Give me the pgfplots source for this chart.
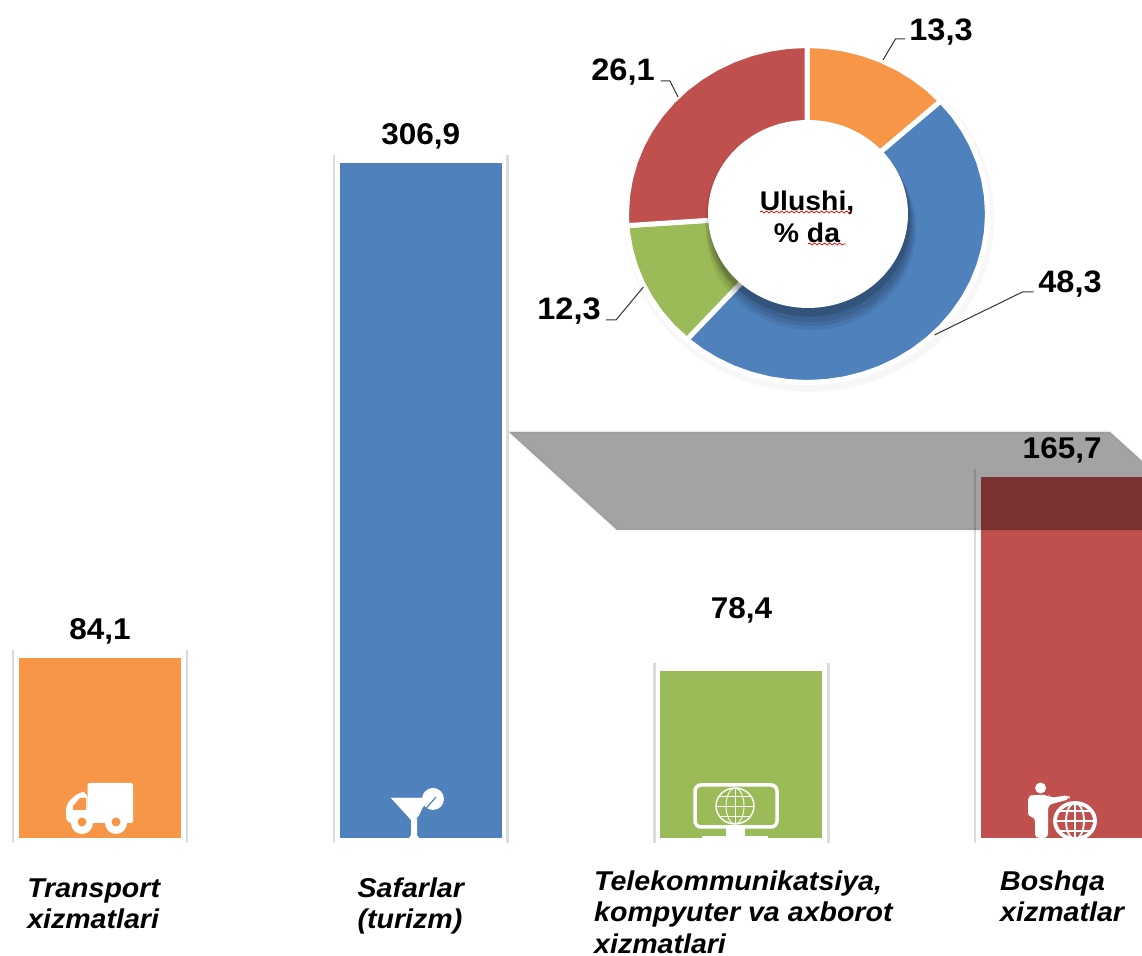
\documentclass[border=0pt]{standalone}
\usepackage{fontspec}
\setmainfont[FakeStretch=1.05]{Liberation Sans}
\usepackage{pgfplots}
\usepgfplotslibrary{polar}
\usetikzlibrary{decorations.pathmorphing}
\pgfplotsset{compat=1.18}

\definecolor{cOrange}{HTML}{F79646}
\definecolor{cBlue}{HTML}{4F81BD}
\definecolor{cGreen}{HTML}{9BBB59}
\definecolor{cRed}{HTML}{C0504D}

\begin{document}
% 1 picture unit = 1 px of the reference, y up from the bottom edge
\begin{tikzpicture}[x=0.5pt,y=0.5pt]
\path[use as bounding box] (0,0) rectangle (1142,956);

\begin{axis}[
    at={(0pt,59pt)},
    anchor=south west,
    scale only axis,
    width=571pt,
    height=419pt,
    xmin=-0.312, xmax=3.249,
    ymin=3.28, ymax=380.2,
    axis x line=bottom,
    axis y line=none,
    axis line style={draw=none},
    clip=false,
    ytick=\empty,
    xtick={-0.02,0.969,2.006,3},
    xticklabels={
      {\rule{0pt}{13.5pt}Transport\\xizmatlari},
      {\rule{0pt}{13.5pt}Safarlar\\(turizm)},
      {Telekommunikatsiya,\\kompyuter va axborot\\xizmatlari},
      {Boshqa\\xizmatlar}},
    major tick length=0pt,
    xtick style={draw=none},
    x tick label style={font=\fontsize{13.6}{15.8}\selectfont\bfseries\itshape, align=left, inner sep=0pt, yshift=-16pt},
    ybar,
    bar width=81pt,
    /pgf/bar shift=0pt,
    nodes near coords,
    nodes near coords style={font=\fontsize{15}{15}\selectfont\bfseries, black, yshift=3.5pt},
    /pgf/number format/assume math mode=true,
    /pgf/number format/use comma,
    /pgf/number format/fixed,
    /pgf/number format/fixed zerofill,
    /pgf/number format/precision=1,
]
\addplot[ybar, fill=cOrange, draw=none] coordinates {(0,84.1)};
\addplot[ybar, fill=cBlue, draw=none] coordinates {(1,306.9)};
\addplot[ybar, fill=cGreen, draw=none, every node near coord/.append style={yshift=17pt}] coordinates {(2,78.4)};
\addplot[ybar, fill=cRed, draw=none] coordinates {(3,165.7)};
% pale side lines beside each bar
\addplot[sharp plot, nodes near coords=, black!14, line width=1.2pt, unbounded coords=jump] coordinates {
  (-0.271,1) (-0.271,87.7) (0,nan) (0.271,1) (0.271,87.7) (0,nan)
  (0.729,1) (0.729,310.5) (0,nan) (1.271,1) (1.271,310.5) (0,nan)
  (1.729,1) (1.729,82) (0,nan) (2.271,1) (2.271,82) (0,nan)
  (2.729,1) (2.729,169.3)
};
\end{axis}

% slanted grey band
\fill[black,fill opacity=0.36] (509,524) -- (1110,524) -- (1142,495) -- (1142,426) -- (617,426) -- cycle;
\draw[black,draw opacity=0.04,line width=1.5pt] (509,524) -- (1110,524) -- (1142,495) (1142,426) -- (617,426) -- (509,524);

% truck
\begin{scope}[white]
\fill[rounded corners=1pt] (87.5,173) rectangle (133,133);
\fill[rounded corners=3pt] (87.5,164) -- (79,164) -- (66,152) -- (66,133) -- (88,133) -- cycle;
\fill[cOrange] (86,158) -- (80,158) -- (73,150) -- (73,146) -- (86,146) -- cycle;
\fill (82,133) circle (11);
\fill (116,133) circle (11);
\fill[cOrange] (82,134) circle (4.5);
\fill[cOrange] (116,134) circle (4.5);
\end{scope}

% cocktail glass
\begin{scope}[white]
\fill (433,157) circle (11);
\fill (391,158) -- (427,158) -- (417,136) -- (417,121) -- (419,118) -- (409,118) -- (411,121) -- (411,136) -- cycle;
\draw[cBlue,line width=0.6pt] (417,137) -- (436,159);
\fill (391,158) -- (430,158) -- (414,137) -- cycle;
\end{scope}

% monitor with globe
\begin{scope}[white]
\draw[line width=1.75pt,rounded corners=3pt] (695,171) rectangle (777,129);
\fill (726,128) rectangle (745,118);
\fill (702,118) rectangle (768,120);
\draw[line width=0.7pt] (735,150) ellipse [x radius=19,y radius=18];
\draw[line width=0.45pt] (735,150) ellipse [x radius=9,y radius=18];
\draw[line width=0.45pt] (716,150) -- (754,150) (735,132) -- (735,168)
  (719,160) -- (751,160) (719,140) -- (751,140);
\end{scope}

% presenter with globe
\begin{scope}[white]
\fill (1040.6,168) circle (5.5);
\fill[rounded corners=2pt] (1033,161) -- (1048,161) -- (1050,158) -- (1069,161) -- (1070,157) -- (1048,151) -- (1048,118) -- (1035,118) -- (1035,139) -- (1028,139) -- (1028,160) -- cycle;
\begin{scope}
\clip (1040,118) rectangle (1110,160);
\draw[line width=1.9pt] (1075,135) ellipse [x radius=20,y radius=18];
\draw[line width=0.9pt] (1075,135) ellipse [x radius=9,y radius=18];
\draw[line width=0.9pt] (1055,135) -- (1095,135) (1075,117) -- (1075,153)
  (1059,145) -- (1091,145) (1059,125) -- (1091,125);
\end{scope}
\end{scope}

% doughnut: soft rim, slices, shadow of the hole, hole
\fill[black,opacity=0.03] (809,738) ellipse [x radius=185,y radius=174];
\fill[white] (807,742) ellipse [x radius=183,y radius=171];

\begin{axis}[
    at={(313.25pt,286.75pt)},
    anchor=south west,
    scale only axis,
    width=180.5pt,
    height=168.5pt,
    xmin=-1, xmax=1,
    ymin=-1, ymax=1,
    hide axis,
    clip=false,
    data cs=polar,
    every axis plot/.append style={draw=white, line width=2.5pt, line join=round},
]
% slices start at 12 o'clock and run clockwise: 13,3 48,3 12,3 26,1 (angle, radius)
\addplot[fill=cOrange] coordinates {(0,0) (90,1) (84,1) (78,1) (72,1) (66,1) (60,1) (54,1) (48,1) (42.12,1)} --cycle;
\addplot[fill=cBlue] coordinates {(0,0) (42.12,1) (36,1) (30,1) (24,1) (18,1) (12,1) (6,1) (0,1) (-6,1) (-12,1) (-18,1) (-24,1) (-30,1) (-36,1) (-42,1) (-48,1) (-54,1) (-60,1) (-66,1) (-72,1) (-78,1) (-84,1) (-90,1) (-96,1) (-102,1) (-108,1) (-114,1) (-120,1) (-126,1) (-131.76,1)} --cycle;
\addplot[fill=cGreen] coordinates {(0,0) (228.24,1) (222,1) (216,1) (210,1) (204,1) (198,1) (192,1) (186,1) (183.96,1)} --cycle;
\addplot[fill=cRed] coordinates {(0,0) (183.96,1) (180,1) (174,1) (168,1) (162,1) (156,1) (150,1) (144,1) (138,1) (132,1) (126,1) (120,1) (114,1) (108,1) (102,1) (96,1) (90,1)} --cycle;
\end{axis}

\fill[black,opacity=0.07] (811,727) ellipse [x radius=105,y radius=101];
\fill[black,opacity=0.09] (811,729) ellipse [x radius=103,y radius=99];
\fill[black,opacity=0.09] (811,731) ellipse [x radius=101,y radius=97];
\fill[black,opacity=0.09] (810,734) ellipse [x radius=100,y radius=95];
\fill[black,opacity=0.06] (808,738) ellipse [x radius=103,y radius=98];
\fill[white] (808,742) ellipse [x radius=100,y radius=94];

\node[font=\fontsize{13.5}{16}\selectfont\bfseries, align=center, inner sep=0pt] at (807,739) {Ulushi,\\\% da};
\draw[red!85!black, line width=0.35pt, decorate, decoration={snake, amplitude=0.5pt, segment length=2.5pt}] (760,744) -- (852,744);
\draw[red!85!black, line width=0.35pt, decorate, decoration={snake, amplitude=0.5pt, segment length=2.5pt}] (808,712) -- (846,712);

% doughnut value labels and leaders
\begin{scope}[every node/.style={font=\fontsize{15.5}{15.5}\selectfont\bfseries, inner sep=0pt}]
\node at (941,924) {13,3};
\node at (623,884) {26,1};
\node at (569,645) {12,3};
\node at (1070,672) {48,3};
\end{scope}
\draw[black!80, line width=0.5pt] (883,896) -- (895.5,917) -- (905,917);
\draw[black!80, line width=0.5pt] (660.6,875) -- (670,875) -- (678,859);
\draw[black!80, line width=0.5pt] (606,636) -- (616,636) -- (643.4,669);
\draw[black!80, line width=0.5pt] (1033.6,664) -- (1022.5,664) -- (934.4,621);
\end{tikzpicture}
\end{document}
